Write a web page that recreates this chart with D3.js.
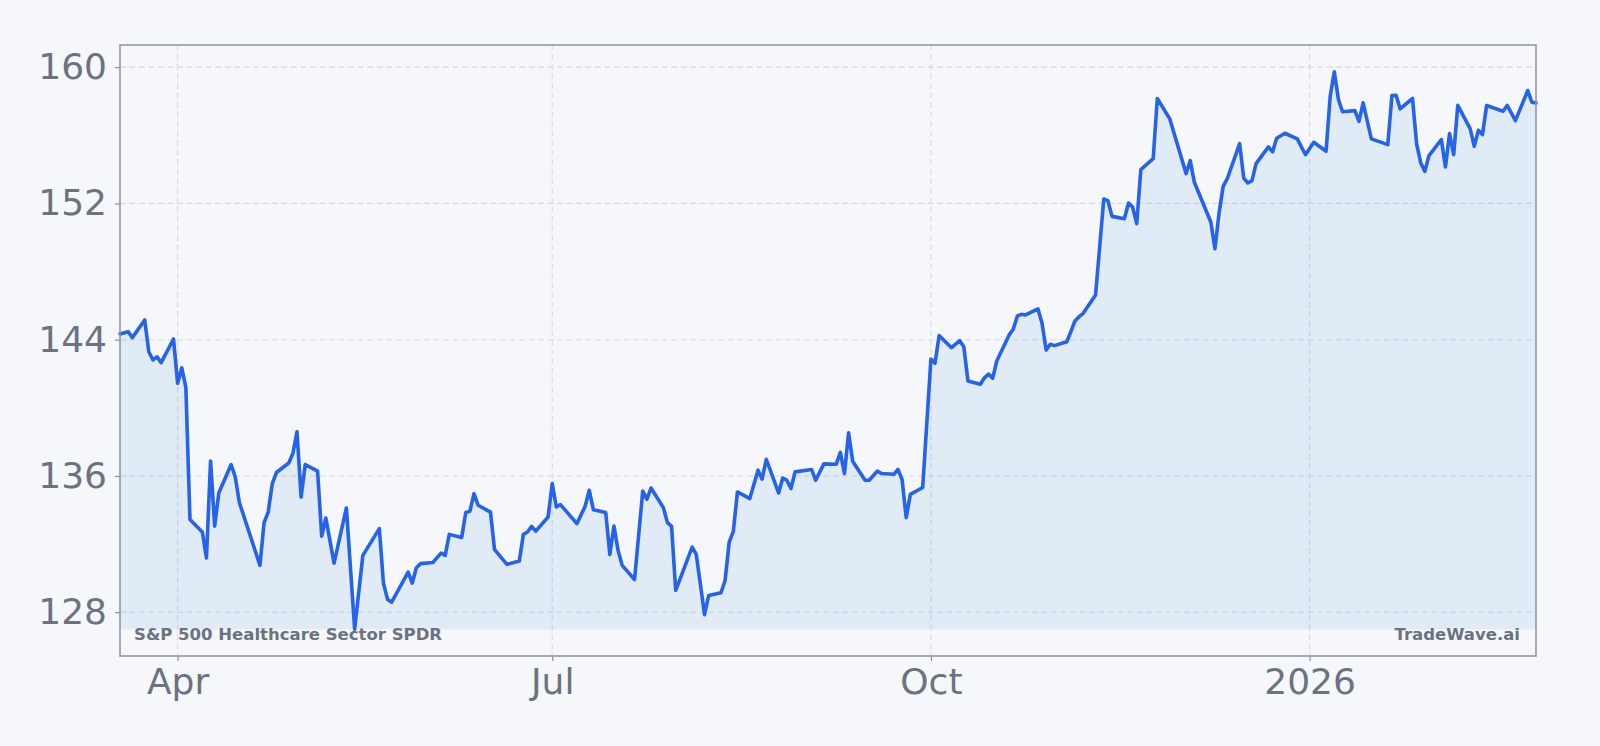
<!DOCTYPE html>
<html>
<head>
<meta charset="utf-8">
<script src="https://cdn.jsdelivr.net/npm/d3@7"></script>
<style>
  html, body { margin: 0; padding: 0; background: #f5f7fa; }
  svg { display: block; }
  text { font-family: "DejaVu Sans", sans-serif; }
</style>
</head>
<body>
<svg id="chart"></svg>
<script>
const dates = [
  "2025-03-18","2025-03-20","2025-03-21","2025-03-24","2025-03-25","2025-03-26","2025-03-27","2025-03-28","2025-03-31",
  "2025-04-01","2025-04-02","2025-04-03","2025-04-04","2025-04-07","2025-04-08","2025-04-09","2025-04-10","2025-04-11",
  "2025-04-14","2025-04-15","2025-04-16","2025-04-21","2025-04-22","2025-04-23","2025-04-24","2025-04-25","2025-04-28",
  "2025-04-29","2025-04-30","2025-05-01","2025-05-02","2025-05-05","2025-05-06","2025-05-07","2025-05-09","2025-05-12",
  "2025-05-14","2025-05-16","2025-05-20","2025-05-21","2025-05-22","2025-05-23","2025-05-27","2025-05-28","2025-05-29",
  "2025-05-30","2025-06-02","2025-06-04","2025-06-05","2025-06-06","2025-06-09","2025-06-10","2025-06-11","2025-06-12",
  "2025-06-13","2025-06-16","2025-06-17","2025-06-20","2025-06-23","2025-06-24","2025-06-25","2025-06-26","2025-06-27",
  "2025-06-30","2025-07-01","2025-07-02","2025-07-03","2025-07-07","2025-07-09","2025-07-10","2025-07-11","2025-07-14",
  "2025-07-15","2025-07-16","2025-07-17","2025-07-18","2025-07-21","2025-07-23","2025-07-24","2025-07-25","2025-07-28",
  "2025-07-29","2025-07-30","2025-07-31","2025-08-04","2025-08-05","2025-08-07","2025-08-08","2025-08-11","2025-08-12",
  "2025-08-13","2025-08-14","2025-08-15","2025-08-18","2025-08-20","2025-08-21","2025-08-22","2025-08-25","2025-08-26",
  "2025-08-27","2025-08-28","2025-08-29","2025-09-02","2025-09-03","2025-09-05","2025-09-08","2025-09-09","2025-09-10",
  "2025-09-11","2025-09-12","2025-09-15","2025-09-16","2025-09-18","2025-09-19","2025-09-22","2025-09-23","2025-09-24",
  "2025-09-25","2025-09-26","2025-09-29","2025-10-01","2025-10-02","2025-10-03","2025-10-06","2025-10-08","2025-10-09",
  "2025-10-10","2025-10-13","2025-10-14","2025-10-15","2025-10-16","2025-10-17","2025-10-20","2025-10-21","2025-10-22",
  "2025-10-23","2025-10-24","2025-10-27","2025-10-28","2025-10-29","2025-10-30","2025-10-31","2025-11-03","2025-11-04",
  "2025-11-05","2025-11-06","2025-11-07","2025-11-10","2025-11-12","2025-11-13","2025-11-14","2025-11-17","2025-11-18",
  "2025-11-19","2025-11-20","2025-11-21","2025-11-24","2025-11-25","2025-11-28","2025-12-02","2025-12-03","2025-12-04",
  "2025-12-08","2025-12-09","2025-12-10","2025-12-11","2025-12-12","2025-12-15","2025-12-16","2025-12-17","2025-12-18",
  "2025-12-19","2025-12-22","2025-12-23","2025-12-24","2025-12-26","2025-12-29","2025-12-31","2026-01-02","2026-01-05",
  "2026-01-06","2026-01-07","2026-01-08","2026-01-09","2026-01-12","2026-01-13","2026-01-14","2026-01-16","2026-01-20",
  "2026-01-21","2026-01-22","2026-01-23","2026-01-26","2026-01-27","2026-01-28","2026-01-29","2026-01-30","2026-02-02",
  "2026-02-03","2026-02-04","2026-02-05","2026-02-06","2026-02-09","2026-02-10","2026-02-11","2026-02-12","2026-02-13",
  "2026-02-17","2026-02-18","2026-02-20","2026-02-23","2026-02-24","2026-02-25"
];

const closes = [
  144.34,144.47,144.12,145.16,143.29,142.81,142.99,142.65,144.04,
  141.44,142.35,141.20,133.44,132.71,131.18,136.88,133.06,135.00,
  136.67,135.94,134.44,130.75,133.26,133.88,135.55,136.20,136.76,
  137.32,138.59,134.76,136.67,136.28,132.47,133.53,130.88,134.12,
  127.00,131.34,132.91,129.71,128.75,128.59,130.35,129.71,130.61,
  130.85,130.92,131.47,131.34,132.57,132.38,133.85,133.92,134.96,
  134.28,133.88,131.67,130.81,131.00,132.57,132.71,133.04,132.76,
  133.59,135.55,134.18,134.32,133.20,134.22,135.16,134.02,133.85,
  131.39,133.06,131.63,130.75,129.92,135.12,134.63,135.29,134.14,
  133.26,133.04,129.28,131.82,131.39,127.86,128.98,129.14,129.86,
  132.12,132.75,135.06,134.67,136.34,135.81,136.98,135.00,135.88,
  135.75,135.26,136.24,136.38,135.75,136.71,136.69,137.38,136.14,
  138.53,136.86,135.75,135.75,136.29,136.14,136.10,136.39,135.79,
  133.55,134.92,135.32,142.86,142.61,144.24,143.53,143.94,143.59,
  141.57,141.38,141.76,141.98,141.73,142.75,144.28,144.61,145.39,
  145.49,145.45,145.81,144.96,143.39,143.73,143.65,143.88,144.47,
  145.10,145.35,145.55,146.63,152.26,152.16,151.24,151.10,152.02,
  151.79,150.81,153.98,154.63,158.16,156.98,153.75,154.51,153.24,
  150.91,149.34,151.43,153.00,153.45,155.51,153.49,153.20,153.34,
  154.34,155.32,155.03,155.83,156.12,155.79,154.86,155.59,155.06,
  158.29,159.73,158.10,157.38,157.45,156.82,157.90,155.79,155.45,
  158.34,158.35,157.55,158.16,155.49,154.38,153.88,154.81,155.75,
  154.14,156.10,154.86,157.76,156.39,155.35,156.29,156.04,157.75,
  157.41,157.75,156.86,158.63,157.94,157.90
];

const yTicks = [128, 136, 144, 152, 160];
const xTickDates = ["2025-04-01", "2025-07-01", "2025-10-01", "2026-01-01"];
const xTickLabels = ["Apr", "Jul", "Oct", "2026"];
const seriesName = "S&P 500 Healthcare Sector SPDR";
const brandName = "TradeWave.ai";

const width = 1600;
const height = 746;
const margin = { top: 45, right: 64, bottom: 90, left: 120 };
const textColor = "#6b7280";
const lineColor = "#2563eb";

const parse = d3.timeParse("%Y-%m-%d");
const data = dates.map((d, i) => ({ date: parse(d), value: closes[i] }));

const svg = d3.select("#chart")
    .attr("width", width)
    .attr("height", height);

svg.append("rect")
    .attr("width", width)
    .attr("height", height)
    .attr("fill", "#f5f7fa");

const x = d3.scaleTime()
    .domain(d3.extent(data, d => d.date))
    .range([margin.left, width - margin.right]);

const minV = d3.min(data, d => d.value);
const maxV = d3.max(data, d => d.value);
const pad = (maxV - minV) * 0.048;
const y = d3.scaleLinear()
    .domain([minV - pad, maxV + pad])
    .range([height - margin.bottom, margin.top]);

const xTicks = xTickDates.map(parse);

// grid
const grid = svg.append("g")
    .attr("stroke", "#d6dae1")
    .attr("stroke-width", 1.1)
    .attr("stroke-dasharray", "6,3.5");

grid.selectAll(".hgrid")
    .data(yTicks)
    .enter().append("line")
    .attr("x1", margin.left)
    .attr("x2", width - margin.right)
    .attr("y1", d => y(d))
    .attr("y2", d => y(d));

grid.selectAll(".vgrid")
    .data(xTicks)
    .enter().append("line")
    .attr("x1", d => x(d))
    .attr("x2", d => x(d))
    .attr("y1", margin.top)
    .attr("y2", height - margin.bottom);

// area down to the lowest close
const area = d3.area()
    .x(d => x(d.date))
    .y0(y(minV))
    .y1(d => y(d.value));

svg.append("path")
    .datum(data)
    .attr("fill", "#4a90d9")
    .attr("fill-opacity", 0.12)
    .attr("d", area);

const line = d3.line()
    .x(d => x(d.date))
    .y(d => y(d.value));

svg.append("path")
    .datum(data)
    .attr("fill", "none")
    .attr("stroke", lineColor)
    .attr("stroke-width", 3.6)
    .attr("stroke-linejoin", "round")
    .attr("stroke-linecap", "round")
    .attr("d", line);

// axes
const yAxis = svg.append("g")
    .attr("transform", `translate(${margin.left},0)`)
    .call(d3.axisLeft(y).tickValues(yTicks).tickSize(5).tickPadding(8));

const xAxis = svg.append("g")
    .attr("transform", `translate(0,${height - margin.bottom})`)
    .call(d3.axisBottom(x).tickValues(xTicks).tickSize(5).tickPadding(7)
        .tickFormat((d, i) => xTickLabels[i]));

[xAxis, yAxis].forEach(ax => {
    ax.select(".domain").remove();
    ax.selectAll(".tick line").attr("stroke", "#8b90a0").attr("stroke-width", 1.2);
    ax.selectAll(".tick text")
        .attr("fill", textColor)
        .style("font-size", "36px")
        .style("font-family", "'DejaVu Sans', sans-serif");
});

// frame
svg.append("rect")
    .attr("x", margin.left)
    .attr("y", margin.top)
    .attr("width", width - margin.left - margin.right)
    .attr("height", height - margin.top - margin.bottom)
    .attr("fill", "none")
    .attr("stroke", "#9297a8")
    .attr("stroke-width", 1.6);

// labels inside the plot
svg.append("text")
    .attr("x", margin.left + 14)
    .attr("y", height - margin.bottom - 16)
    .attr("fill", textColor)
    .style("font-size", "16.5px")
    .style("font-weight", "bold")
    .text(seriesName);

svg.append("text")
    .attr("x", width - margin.right - 16)
    .attr("y", height - margin.bottom - 16)
    .attr("text-anchor", "end")
    .attr("fill", textColor)
    .style("font-size", "16.5px")
    .style("font-weight", "bold")
    .text(brandName);
</script>
</body>
</html>
